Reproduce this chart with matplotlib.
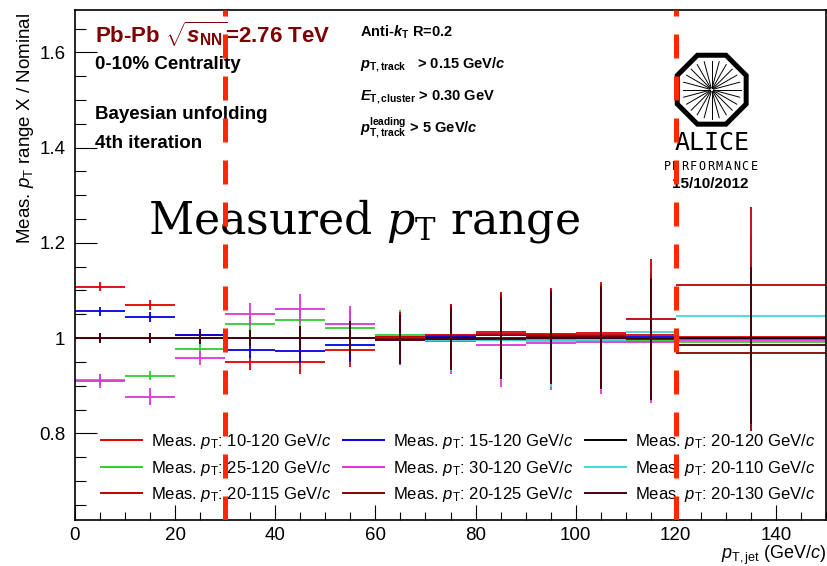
import matplotlib.pyplot as plt
import numpy as np
from matplotlib.lines import Line2D
from matplotlib.patches import RegularPolygon
from matplotlib.ticker import MultipleLocator, FuncFormatter

plt.rcParams['font.family'] = 'Liberation Sans'
plt.rcParams['mathtext.fontset'] = 'custom'
plt.rcParams['mathtext.rm'] = 'Liberation Sans'
plt.rcParams['mathtext.it'] = 'Liberation Sans:italic'
plt.rcParams['mathtext.bf'] = 'Liberation Sans:bold'
plt.rcParams['mathtext.bfit'] = 'Liberation Sans:bold:italic'

# jet pT binning (GeV/c)
bin_lo = [0, 10, 20, 30, 40, 50, 60, 70, 80, 90, 100, 110, 120]
bin_hi = [10, 20, 30, 40, 50, 60, 70, 80, 90, 100, 110, 120, 150]

# statistical errors of the ratio per bin
err = [0.010, 0.010, 0.012, 0.016, 0.025, 0.035, 0.051, 0.066, 0.085, 0.097, 0.107, 0.127, 0.165]
err_30 = [0.015, 0.018, 0.015, 0.024, 0.030, 0.038, 0.053, 0.068, 0.088, 0.099, 0.108, 0.128, 0.165]

# unfolded spectrum with measured range X divided by nominal (20-120)
r_10_120 = [1.108, 1.070, 1.007, 0.949, 0.950, 0.975, 1.002, 1.005, 1.012, 1.008, 1.010, 1.006, 1.003]
r_15_120 = [1.056, 1.044, 1.007, 0.975, 0.972, 0.985, 1.001, 1.002, 1.006, 1.004, 1.004, 1.003, 0.999]
r_20_120 = [1.000, 1.000, 1.000, 1.000, 1.000, 1.000, 1.000, 1.000, 1.000, 1.000, 1.000, 1.000, 1.000]
r_25_120 = [0.913, 0.921, 0.978, 1.030, 1.039, 1.021, 1.007, 0.997, 0.996, 0.995, 0.996, 0.994, 0.992]
r_30_120 = [0.910, 0.877, 0.958, 1.050, 1.062, 1.029, 0.996, 0.993, 0.986, 0.989, 0.991, 0.992, 0.995]
r_20_110 = [1.000, 1.000, 1.000, 1.000, 1.000, 1.000, 1.000, 0.996, 0.996, 0.994, 0.997, 1.013, 1.047]
r_20_115 = [1.000, 1.000, 1.000, 1.000, 1.000, 1.000, 1.003, 1.006, 1.009, 1.006, 1.006, 1.040, 1.111]
r_20_125 = [1.000, 1.000, 1.000, 1.000, 1.000, 1.000, 0.998, 0.999, 1.000, 1.002, 1.002, 1.000, 0.969]
r_20_130 = [1.000, 1.000, 1.000, 1.000, 1.000, 1.000, 0.997, 0.998, 0.999, 1.000, 1.000, 0.998, 0.985]

ranges = ['10-120', '15-120', '20-120', '25-120', '30-120', '20-110', '20-115', '20-125', '20-130']
ratios = [r_10_120, r_15_120, r_20_120, r_25_120, r_30_120, r_20_110, r_20_115, r_20_125, r_20_130]
errors = [err, err, err, err, err_30, err, err, err, err]
colors = ['#e00000', '#0000e6', '#000000', '#33cc33', '#dd33dd', '#40d8d8', '#c00000', '#880000', '#440010']

lo = np.array(bin_lo, dtype=float)
hi = np.array(bin_hi, dtype=float)
centers = (lo + hi) / 2
half = (hi - lo) / 2

fig = plt.figure(figsize=(8.27, 5.66), dpi=100)

# logo layer in pixel units, underneath the main pad
logo = fig.add_axes([0, 0, 1, 1], zorder=0)
logo.set_xlim(0, 827)
logo.set_ylim(566, 0)
logo.axis('off')

ax = fig.add_axes([75 / 827, 46 / 566, 751 / 827, 510 / 566], zorder=1)
ax.patch.set_alpha(0)

handles = []
for rng, vals, e, c in zip(ranges, ratios, errors, colors):
    ax.errorbar(centers, vals, xerr=half, yerr=e, fmt='none', ecolor=c,
                elinewidth=1.3, capsize=0)
    handles.append(Line2D([], [], color=c, lw=1.4,
                          label=r'Meas. $p_{\mathrm{T}}$: ' + rng + r' GeV/$c$'))

ax.set_xlim(0, 150)
ax.set_ylim(0.618, 1.689)

ax.xaxis.set_major_locator(MultipleLocator(20))
ax.xaxis.set_minor_locator(MultipleLocator(5))
ax.yaxis.set_major_locator(MultipleLocator(0.2))
ax.yaxis.set_minor_locator(MultipleLocator(0.05))
ax.yaxis.set_major_formatter(FuncFormatter(lambda v, p: '%g' % round(v, 2)))
ax.tick_params(axis='both', which='both', direction='in', width=0.8, labelsize=13.5)
ax.tick_params(axis='x', which='major', length=10.8, pad=5)
ax.tick_params(axis='x', which='minor', length=5.8)
ax.tick_params(axis='y', which='major', length=15.8, pad=7)
ax.tick_params(axis='y', which='minor', length=7.9)
for s in ax.spines.values():
    s.set_linewidth(1.2)

ax.set_ylabel(r'Meas. $p_{\mathrm{T}}$ range X / Nominal', fontsize=13.5, loc='top')
ax.yaxis.set_label_coords(-0.052, 0.995)
ax.set_xlabel(r'$p_{\mathrm{T,jet}}$ (GeV/$c$)', fontsize=13, loc='right')
ax.xaxis.set_label_coords(1.0, -0.046)

# legend is filled row by row: reorder for matplotlib's column filling
order = [0, 3, 6, 1, 4, 7, 2, 5, 8]
ax.legend([handles[i] for i in order], [handles[i].get_label() for i in order],
          ncol=3, loc='upper left', bbox_to_anchor=(0.034, 0.172), frameon=False,
          fontsize=12, handlelength=2.5, handletextpad=0.5, columnspacing=0.7,
          labelspacing=0.45, borderpad=0, borderaxespad=0)

# labels
ax.text(4.0, 1.619, r'Pb-Pb $\sqrt{\mathbfit{s}_{\mathbf{NN}}}$=2.76 TeV', color='#7f0000',
        fontsize=16, fontweight='bold', va='baseline')
ax.text(4.0, 1.5645, '0-10% Centrality', fontsize=13.5, fontweight='bold', va='baseline')
ax.text(4.0, 1.4595, 'Bayesian unfolding', fontsize=13.5, fontweight='bold', va='baseline')
ax.text(4.0, 1.3986, '4th iteration', fontsize=13.5, fontweight='bold', va='baseline')

ax.text(57, 1.633, r'Anti-$\mathbfit{k}_{\mathbf{T}}$ R=0.2', fontsize=10.5, fontweight='bold', va='baseline')
ax.text(57, 1.5666, r'$\mathbfit{p}_{\mathbf{T,track}}$   > 0.15 GeV/$\mathbfit{c}$',
        fontsize=10.5, fontweight='bold', va='baseline')
ax.text(57, 1.500, r'$\mathbfit{E}_{\mathbf{T,cluster}}$ > 0.30 GeV',
        fontsize=10.5, fontweight='bold', va='baseline')
ax.text(57, 1.4334, r'$\mathbfit{p}_{\mathbf{T,track}}^{\mathbf{leading}}$ > 5 GeV/$\mathbfit{c}$',
        fontsize=10.5, fontweight='bold', va='baseline')

ax.text(14.6, 1.220, r'Measured $p_{\mathrm{T}}$ range', fontsize=31.8, family='DejaVu Serif',
        math_fontfamily='dejavuserif', va='baseline')

# measured-range limits of the nominal setting
for xv in (30, 120):
    ax.axvline(xv, color='#ff2800', lw=3.6, dashes=(4.8, 3.6), zorder=10)

# ALICE performance logo
cx, cy = 711.7, 89.7
logo.add_patch(RegularPolygon((cx, cy), numVertices=8, radius=37.3, orientation=np.pi / 8,
                              facecolor='white', edgecolor='black', lw=3.6, joinstyle='miter'))
for a in np.linspace(0, 2 * np.pi, 24, endpoint=False):
    logo.plot([cx + 2 * np.cos(a), cx + 29 * np.cos(a)],
              [cy + 2 * np.sin(a), cy + 29 * np.sin(a)], color='black', lw=0.7)
logo.text(cx, 143, 'ALICE', family='DejaVu Sans Mono', fontsize=18, ha='center', va='center')
for i, ch in enumerate('PERFORMANCE'):
    logo.text(667 + i * 8.7, 166.5, ch, family='DejaVu Sans Mono', fontsize=8.5,
              ha='center', va='center')
logo.text(cx - 1, 184.5, '15/10/2012', fontsize=11, fontweight='bold', ha='center', va='center')

fig.savefig('out.png', dpi=100)
